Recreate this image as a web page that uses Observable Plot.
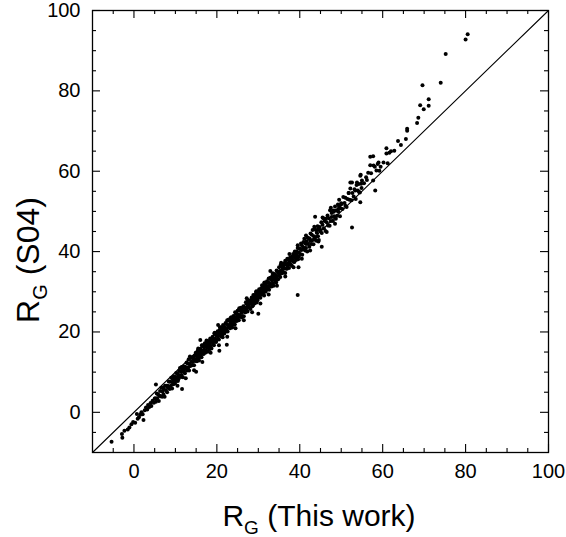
<!DOCTYPE html>
<html><head><meta charset="utf-8">
<script src="https://cdn.jsdelivr.net/npm/d3@7"></script>
<script src="https://cdn.jsdelivr.net/npm/@observablehq/plot@0.6"></script>
<style>body{margin:0;background:#fff} svg{display:block}</style>
</head><body><div id="chart"></div>
<script>
// Tick values
const majorTicks = [0, 20, 40, 60, 80, 100];
const minorTicks = [-5, 5, 10, 15, 25, 30, 35, 45, 50, 55, 65, 70, 75, 85, 90, 95];
const identityLine = [-10, 100];

// [R_G (This work), R_G (S04)]
const lowEnd = [[-5.4,-7.3],[-2.8,-6.3],[-2.9,-5.4],[-2.3,-4.6],[-1.5,-4.3],[-1.1,-3.8],[-0.6,-3.0],[-0.2,-2.4],[0.3,-2.6],[0.7,-0.4],[0.9,-1.6],[1.2,-1.2],[1.5,-0.6],[1.8,0.0],[2.1,-0.5],[2.3,-1.9],[2.6,0.5],[2.9,1.2],[3.2,0.7],[3.4,1.8],[3.7,1.3],[4.0,2.3],[4.2,1.6],[4.5,2.9],[4.8,2.4],[5.0,3.4],[5.3,6.9]];
const band5to10 = [[5.1,3.5],[5.3,2.6],[5.5,4.7],[5.6,3.5],[5.8,4.5],[6.0,2.8],[6.1,4.2],[6.3,5.3],[6.4,4.0],[6.6,6.1],[6.8,3.9],[6.9,5.2],[7.1,4.5],[7.2,5.8],[7.4,3.9],[7.5,6.6],[7.7,5.5],[7.8,6.6],[8.0,5.0],[8.1,6.6],[8.3,6.3],[8.4,7.7],[8.6,5.8],[8.7,7.6],[8.9,6.6],[9.0,8.6],[9.2,5.9],[9.3,7.5],[9.5,7.0],[9.6,9.0],[9.8,8.2],[9.9,7.2],[7.0,6.2],[8.2,6.1],[9.4,8.1]];
const band10to15 = [[10.0,8.8],[10.1,7.8],[10.2,9.8],[10.4,8.7],[10.5,9.6],[10.6,7.8],[10.8,9.3],[10.9,10.3],[11.0,9.0],[11.1,11.0],[11.3,8.8],[11.4,10.1],[11.5,9.3],[11.7,10.7],[11.8,8.7],[11.9,11.4],[12.0,10.2],[12.2,11.4],[12.3,9.7],[12.4,11.3],[12.6,11.0],[12.7,12.4],[12.8,10.4],[12.9,12.2],[13.1,11.2],[13.2,13.2],[13.3,10.4],[13.4,12.0],[13.6,11.5],[13.7,13.5],[13.8,12.6],[14.0,11.7],[14.1,13.7],[14.2,12.5],[14.3,13.4],[14.5,11.7],[14.6,13.1],[14.7,14.1],[14.8,12.8],[14.9,14.8],[10.7,8.2],[12.1,10.8],[13.0,10.8],[14.4,13.4]];
const band15to20 = [[15.0,13.3],[15.1,14.7],[15.2,12.7],[15.3,14.2],[15.4,15.4],[15.5,13.5],[15.6,14.8],[15.7,12.9],[15.8,15.3],[15.9,14.5],[16.0,15.8],[16.1,13.9],[16.2,15.2],[16.3,13.7],[16.4,16.7],[16.5,14.6],[16.6,15.3],[16.7,16.4],[16.8,14.5],[16.9,16.2],[17.0,15.4],[17.1,17.2],[17.2,14.8],[17.3,16.4],[17.4,15.3],[17.5,17.4],[17.6,16.1],[17.7,17.1],[17.8,15.1],[17.9,16.7],[18.0,16.3],[18.1,17.7],[18.2,15.7],[18.3,17.2],[18.4,18.4],[18.5,16.5],[18.6,17.8],[18.7,15.9],[18.8,18.3],[18.9,17.5],[19.0,18.8],[19.1,16.9],[19.2,18.2],[19.3,16.7],[19.4,19.7],[19.5,17.6],[19.6,18.3],[19.7,19.4],[19.8,17.5],[19.9,19.2],[15.35,13.8],[16.45,16.6],[17.55,15.2],[18.65,17.8],[19.75,17.7]];
const band20to25 = [[20.0,19.2],[20.1,18.2],[20.2,20.2],[20.3,19.0],[20.4,19.9],[20.5,18.1],[20.6,19.5],[20.7,20.5],[20.8,19.2],[20.9,21.2],[21.0,18.9],[21.1,20.2],[21.2,19.4],[21.3,20.7],[21.4,18.7],[21.5,21.4],[21.6,20.2],[21.7,21.3],[21.8,19.6],[21.9,21.2],[22.0,20.8],[22.1,22.2],[22.2,20.2],[22.3,22.0],[22.4,20.9],[22.5,22.9],[22.6,20.1],[22.7,21.7],[22.8,21.1],[22.9,23.1],[23.0,21.5],[23.1,22.9],[23.2,20.9],[23.3,22.4],[23.4,23.6],[23.5,21.7],[23.6,23.0],[23.7,21.1],[23.8,23.5],[23.9,22.7],[24.0,24.0],[24.1,22.1],[24.2,23.4],[24.3,21.9],[24.4,24.9],[24.5,22.8],[24.6,23.5],[24.7,24.6],[24.8,22.7],[24.9,24.4],[20.25,18.9],[20.75,21.1],[21.25,19.1],[21.75,21.1],[22.25,20.4],[22.75,22.9],[23.25,22.0],[23.75,23.4],[24.25,21.8],[24.75,23.8]];
const band25to30 = [[25.0,25.3],[25.1,23.5],[25.2,24.3],[25.3,22.9],[25.4,25.9],[25.5,24.1],[25.6,25.4],[25.7,23.8],[25.8,26.0],[25.9,24.8],[26.0,25.4],[26.1,24.0],[26.2,25.9],[26.3,25.0],[26.4,26.4],[26.5,23.9],[26.6,26.1],[26.7,25.0],[26.8,26.0],[26.9,24.9],[27.0,27.4],[27.1,25.6],[27.2,27.1],[27.3,26.3],[27.4,25.1],[27.5,27.1],[27.6,26.4],[27.7,27.8],[27.8,26.0],[27.9,27.2],[28.0,27.1],[28.1,25.7],[28.2,27.9],[28.3,27.1],[28.4,28.6],[28.5,26.7],[28.6,28.0],[28.7,26.6],[28.8,29.2],[28.9,27.6],[29.0,28.6],[29.1,27.1],[29.2,29.2],[29.3,28.3],[29.4,27.8],[29.5,30.1],[29.6,27.3],[29.7,29.0],[29.8,27.9],[29.9,30.0],[25.05,24.0],[25.55,25.4],[26.05,23.6],[26.55,26.1],[27.05,25.4],[27.55,27.9],[28.05,27.3],[28.55,26.4],[29.05,29.0],[29.55,28.2]];
const band30to35 = [[30.0,29.6],[30.1,28.6],[30.2,30.6],[30.3,29.4],[30.4,30.3],[30.5,28.5],[30.6,29.9],[30.7,30.9],[30.8,29.6],[30.9,31.6],[31.0,29.3],[31.1,30.6],[31.2,29.8],[31.3,31.1],[31.4,29.1],[31.5,31.8],[31.6,30.6],[31.7,31.7],[31.8,30.0],[31.9,31.6],[32.0,31.2],[32.1,32.6],[32.2,30.6],[32.3,32.4],[32.4,31.3],[32.5,33.3],[32.6,30.5],[32.7,32.1],[32.8,31.5],[32.9,33.5],[33.0,31.9],[33.1,33.3],[33.2,31.3],[33.3,32.8],[33.4,34.0],[33.5,32.1],[33.6,33.4],[33.7,31.5],[33.8,33.9],[33.9,33.1],[34.0,34.4],[34.1,32.5],[34.2,33.8],[34.3,32.3],[34.4,35.3],[34.5,33.2],[34.6,33.9],[34.7,35.0],[34.8,33.1],[34.9,34.8],[30.45,29.5],[31.45,32.2],[32.45,30.7],[33.45,33.2],[34.45,33.0]];
const band35to40 = [[35.0,36.1],[35.1,34.3],[35.2,35.1],[35.3,33.7],[35.4,36.7],[35.5,34.9],[35.6,36.2],[35.7,34.6],[35.8,36.8],[35.9,35.6],[36.0,36.2],[36.1,34.8],[36.2,36.7],[36.3,35.8],[36.4,37.2],[36.5,34.7],[36.6,36.9],[36.7,35.8],[36.8,36.8],[36.9,35.7],[37.0,38.2],[37.1,36.4],[37.2,37.9],[37.3,37.1],[37.4,35.9],[37.5,37.9],[37.6,37.2],[37.7,38.6],[37.8,36.8],[37.9,38.0],[38.0,37.9],[38.1,36.5],[38.2,38.7],[38.3,37.9],[38.4,39.4],[38.5,37.5],[38.6,38.8],[38.7,37.4],[38.8,40.0],[38.9,38.4],[39.0,39.4],[39.1,37.9],[39.2,40.0],[39.3,39.1],[39.4,38.6],[39.5,40.9],[39.6,38.1],[39.7,39.8],[39.8,38.7],[39.9,40.8]];
const band40to45 = [[40.0,40.7],[40.1,39.4],[40.3,42.0],[40.4,40.4],[40.5,41.6],[40.6,39.2],[40.8,41.1],[40.9,42.4],[41.0,40.6],[41.1,43.2],[41.3,40.3],[41.4,42.0],[41.5,40.9],[41.6,42.6],[41.8,40.0],[41.9,43.5],[42.0,41.9],[42.1,43.3],[42.3,41.2],[42.4,43.2],[42.5,42.7],[42.6,44.5],[42.8,41.9],[42.9,44.2],[43.0,42.8],[43.1,45.4],[43.3,41.8],[43.4,43.8],[43.5,43.0],[43.6,45.6],[43.8,43.6],[43.9,45.4],[44.0,42.7],[44.1,44.7],[44.3,46.3],[44.4,43.8],[44.5,45.5],[44.6,42.9],[44.8,46.1],[44.9,45.1]];
const band45to55 = [[45.0,45.4],[45.2,47.3],[45.3,44.6],[45.5,46.7],[45.7,48.3],[45.8,45.8],[46.0,47.6],[46.2,45.1],[46.3,48.2],[46.5,47.3],[46.7,49.0],[46.8,46.5],[47.0,48.3],[47.2,46.4],[47.3,50.3],[47.5,47.6],[47.7,48.6],[47.8,50.0],[48.0,47.6],[48.2,49.9],[48.3,48.8],[48.5,51.2],[48.7,48.2],[48.8,50.2],[49.0,48.9],[49.2,51.7],[49.3,49.9],[49.5,51.3],[49.7,48.8],[49.8,50.8],[50.0,52.0],[50.3,50.6],[50.5,53.6],[50.8,52.1],[51.0,53.4],[51.3,51.1],[51.5,53.1],[51.8,54.6],[52.0,52.9],[52.2,55.7],[52.5,52.8],[52.7,54.6],[53.0,53.7],[53.2,55.5],[53.5,53.1],[53.7,56.6],[54.0,55.2],[54.2,56.8],[54.5,54.7],[54.8,56.9]];
const bandEdges = [[10.5,6.6],[11.5,11.3],[12.5,8.5],[13.5,13.9],[14.5,10.5],[15.5,15.9],[16.5,12.5],[17.5,17.9],[18.5,14.8],[19.5,19.8],[20.5,16.7],[21.5,21.7],[22.5,18.8],[23.5,23.6],[24.5,20.9],[25.5,25.7],[26.5,22.9],[27.5,27.8],[28.5,24.9],[29.5,29.9],[30.5,27.1],[31.5,32.3],[32.5,29.3],[33.5,34.6],[34.5,31.5],[35.5,37.2],[36.5,33.8],[37.5,39.4],[38.5,36.1],[39.5,41.6],[40.5,38.2],[41.5,44.0],[42.5,40.3],[43.5,46.2],[44.5,42.5],[45.5,48.5],[46.5,44.9],[47.5,50.9],[48.5,46.9],[49.5,52.9]];
const upperTail = [[55.0,57.7],[55.5,57.0],[56.2,57.8],[57.7,57.7],[54.9,55.8],[58.2,55.2],[56.5,59.6],[57.2,59.5],[59.2,60.1],[57.0,61.5],[58.8,61.8],[58.1,61.1],[59.5,61.1],[57.0,63.6],[57.7,63.7],[57.8,61.4],[59.0,62.2],[60.2,62.2],[56.0,58.5],[58.5,60.2],[60.9,65.7],[61.6,64.6],[60.9,64.4],[62.0,65.0],[62.8,65.1],[61.2,62.0],[63.7,67.5],[65.6,68.0],[64.4,66.5],[65.9,70.6],[65.9,70.1],[68.6,73.3],[68.3,72.0],[69.05,76.4],[71.1,77.9],[69.9,75.4],[71.1,76.3],[69.6,81.4],[74.0,82.0],[75.2,89.2],[80.0,92.8],[80.5,94.1]];
const outliers = [[11.6,5.8],[15.0,10.1],[16.0,18.0],[20.3,21.7],[22.4,16.8],[20.6,15.3],[27.2,28.4],[30.0,24.5],[32.9,35.2],[35.3,35.2],[36.5,37.7],[38.1,38.6],[39.7,36.1],[39.5,29.2],[43.7,48.7],[45.3,41.2],[47.7,49.6],[48.1,50.2],[49.3,50.6],[50.0,51.8],[51.0,51.4],[51.8,54.6],[52.6,46.0],[52.2,57.2],[52.6,57.2],[53.8,57.2],[53.4,55.2],[54.3,54.8],[54.6,52.3],[54.6,58.9],[54.7,59.1]];

const points = [lowEnd, band5to10, band10to15, band15to20, band20to25, band25to30, band30to35, band35to40, band40to45, band45to55, bandEdges, upperTail, outliers]
  .flat().map(([x, y]) => ({x, y}));

const W = 566, H = 537, mL = 92, mR = 18, mT = 10, mB = 85;
const innerW = W - mL - mR, innerH = H - mT - mB;
const font = "'Liberation Sans', Arial, Helvetica, sans-serif";

const chart = Plot.plot({
  width: W, height: H,
  marginLeft: mL, marginRight: mR, marginTop: mT, marginBottom: mB,
  x: {domain: [-10, 100]},
  y: {domain: [-10, 100]},
  style: {fontFamily: font, fontSize: "20px", color: "black", background: "white"},
  marks: [
    Plot.line(identityLine.map(v => ({x: v, y: v})), {x: "x", y: "y", stroke: "black", strokeWidth: 1.1}),
    Plot.dot(points, {x: "x", y: "y", r: 2, fill: "black", stroke: null}),
    // inward ticks on all four sides
    Plot.tickX(majorTicks, {x: d => d, insetTop: innerH - 8, stroke: "black", strokeWidth: 1.1}),
    Plot.tickX(minorTicks, {x: d => d, insetTop: innerH - 4, stroke: "black", strokeWidth: 1.1}),
    Plot.tickX(majorTicks, {x: d => d, insetBottom: innerH - 8, stroke: "black", strokeWidth: 1.1}),
    Plot.tickX(minorTicks, {x: d => d, insetBottom: innerH - 4, stroke: "black", strokeWidth: 1.1}),
    Plot.tickY(majorTicks, {y: d => d, insetRight: innerW - 8, stroke: "black", strokeWidth: 1.1}),
    Plot.tickY(minorTicks, {y: d => d, insetRight: innerW - 4, stroke: "black", strokeWidth: 1.1}),
    Plot.tickY(majorTicks, {y: d => d, insetLeft: innerW - 8, stroke: "black", strokeWidth: 1.1}),
    Plot.tickY(minorTicks, {y: d => d, insetLeft: innerW - 4, stroke: "black", strokeWidth: 1.1}),
    Plot.axisX(majorTicks, {anchor: "bottom", tickSize: 0, tickPadding: 11, fontSize: 20, label: null}),
    Plot.axisY(majorTicks, {anchor: "left", tickSize: 0, tickPadding: 12, fontSize: 20, label: null}),
    Plot.frame({stroke: "black", strokeWidth: 1.3})
  ]
});
document.getElementById("chart").append(chart);

const svg = d3.select(chart);
const xt = svg.append("text").attr("x", 319).attr("y", 526).attr("text-anchor", "middle")
  .attr("font-family", font).attr("font-size", 30).attr("fill", "black");
xt.append("tspan").text("R");
xt.append("tspan").attr("font-size", 19).attr("dy", 8).text("G");
xt.append("tspan").attr("dy", -8).text(" (This work)");

const yt = svg.append("text").attr("transform", "translate(39,260) rotate(-90)").attr("text-anchor", "middle")
  .attr("font-family", font).attr("font-size", 32).attr("fill", "black");
yt.append("tspan").text("R");
yt.append("tspan").attr("font-size", 20).attr("dy", 8).text("G");
yt.append("tspan").attr("dy", -8).text(" (S04)");
</script>
</body></html>
